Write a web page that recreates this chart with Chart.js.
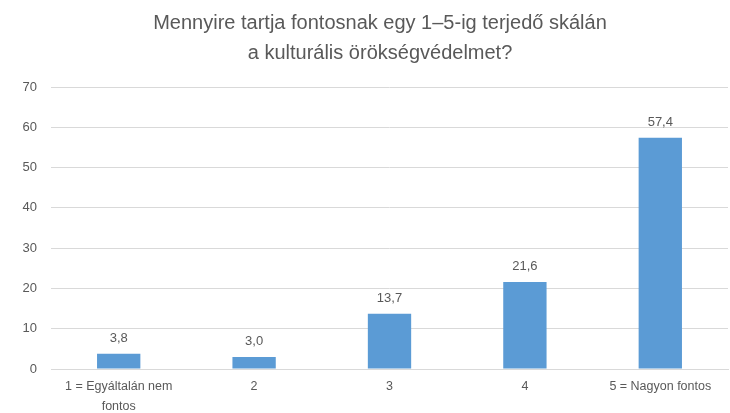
<!DOCTYPE html>
<html>
<head>
<meta charset="utf-8">
<script src="https://cdn.jsdelivr.net/npm/chart.js@4.4.0/dist/chart.umd.min.js"></script>
<style>
  html, body { margin: 0; padding: 0; background: #fff; }
  #wrap { width: 730px; height: 413px; }
</style>
</head>
<body>
<div id="wrap"><canvas id="myChart" width="730" height="413"></canvas></div>
<script>
var titleLines = ['Mennyire tartja fontosnak egy 1–5-ig terjedő skálán', 'a kulturális örökségvédelmet?'];
var categories = [['1 = Egyáltalán nem', 'fontos'], '2', '3', '4', '5 = Nagyon fontos'];
var values = [3.8, 3.0, 13.7, 21.6, 57.4];
var yTicks = [0, 10, 20, 30, 40, 50, 60, 70];

var fontFamily = "'Liberation Sans', 'DejaVu Sans', sans-serif";
var textColor = '#595959';

// title drawn by hand so it can sit a bit right of centre like the original
var titlePlugin = {
    id: 'customTitle',
    afterDraw: function(chart){
        var ctx = chart.ctx;
        ctx.save();
        ctx.fillStyle = textColor;
        ctx.font = '20px ' + fontFamily;
        ctx.textAlign = 'center';
        ctx.textBaseline = 'middle';
        for(var i = 0; i < titleLines.length; i++){
            ctx.fillText(titleLines[i], 380, 23 + i * 30);
        }
        ctx.restore();
    }
};

// value labels above each bar, comma decimal
var labelPlugin = {
    id: 'barLabels',
    afterDatasetsDraw: function(chart){
        var ctx = chart.ctx;
        var meta = chart.getDatasetMeta(0);
        ctx.save();
        ctx.fillStyle = textColor;
        ctx.font = '13px ' + fontFamily;
        ctx.textAlign = 'center';
        ctx.textBaseline = 'bottom';
        meta.data.forEach(function(bar, i){
            ctx.fillText(values[i].toFixed(1).replace('.', ','), bar.x, bar.y - 9);
        });
        ctx.restore();
    }
};

var ctx = document.getElementById('myChart');
var chart = new Chart(ctx, {
    type: 'bar',
    data: {
        labels: categories,
        datasets: [{
            label: 'Érték',
            data: values,
            backgroundColor: '#5b9bd5',
            categoryPercentage: 1.0,
            barPercentage: 0.32
        }]
    },
    options: {
        responsive: false,
        animation: false,
        layout: { padding: { top: 87, left: 0, right: 2, bottom: 0 } },
        plugins: {
            legend: { display: false },
            title: { display: false },
            tooltip: { enabled: false }
        },
        scales: {
            y: {
                min: 0,
                max: 70,
                afterBuildTicks: function(axis){
                    axis.ticks = yTicks.map(function(v){ return { value: v }; });
                },
                afterFit: function(axis){ axis.width = 51; },
                grid: { color: '#d9d9d9', drawTicks: false },
                border: { display: false },
                ticks: {
                    color: textColor,
                    padding: 14,
                    font: { family: fontFamily, size: 13 }
                }
            },
            x: {
                afterFit: function(axis){ axis.height = 44; },
                grid: { display: false },
                border: { color: '#d9d9d9' },
                ticks: {
                    color: textColor,
                    maxRotation: 0,
                    autoSkip: false,
                    padding: 0,
                    font: { family: fontFamily, size: 12.5, lineHeight: 1.55 }
                }
            }
        }
    },
    plugins: [titlePlugin, labelPlugin]
});
</script>
</body>
</html>
